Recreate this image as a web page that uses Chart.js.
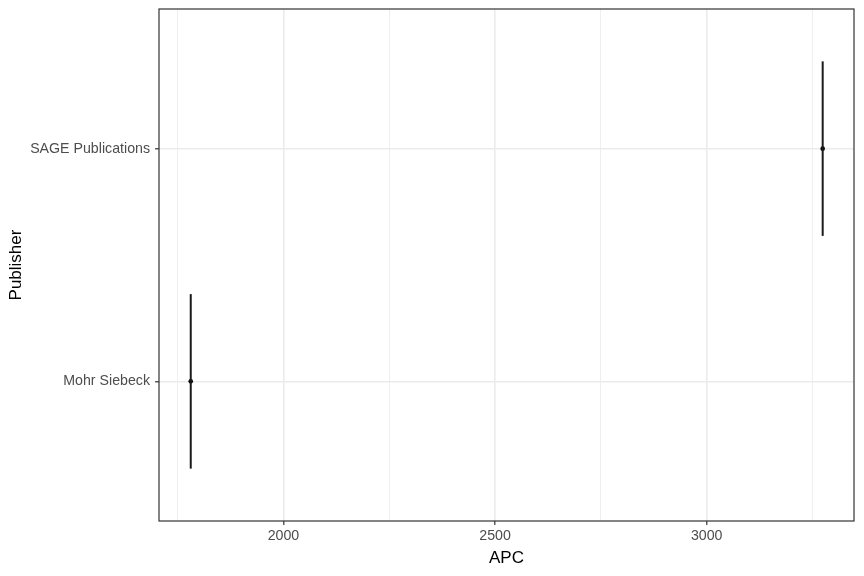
<!DOCTYPE html>
<html lang="en">
<head>
  <meta charset="UTF-8" />
  <title>APC by Publisher</title>
  <script src="https://cdn.jsdelivr.net/npm/chart.js"></script>
  <style>
    html, body { margin: 0; padding: 0; background: #fff; }
    #wrap { width: 864px; height: 576px; }
  </style>
</head>
<body>
  <div id="wrap"><canvas id="apcChart" width="864" height="576"></canvas></div>

  <script>
    // data
    const publishers = ["Mohr Siebeck", "SAGE Publications"];
    const apc = [1781, 3274];
    const xTicks = [1750, 2000, 2250, 2500, 2750, 3000, 3250];
    const xTickLabels = ["", "2000", "", "2500", "", "3000", ""];

    const BAR_HALF = 0.375; // vertical half-size of the bars, in category units
    const FONT = "'Liberation Sans', Arial, sans-serif";

    // one line dataset per publisher for the vertical bar, plus one scatter set for the points
    const barSets = publishers.map(function (p, i) {
      return {
        type: "line",
        label: p,
        data: [{ x: apc[i], y: i + 1 - BAR_HALF }, { x: apc[i], y: i + 1 + BAR_HALF }],
        borderColor: "#1a1a1a",
        borderWidth: 2,
        pointRadius: 0,
        fill: false
      };
    });

    const pointSet = {
      type: "scatter",
      label: "APC",
      data: publishers.map(function (p, i) { return { x: apc[i], y: i + 1 }; }),
      backgroundColor: "#000",
      borderColor: "#000",
      pointRadius: 2.3,
      borderWidth: 0
    };

    // panel border on all four sides, like theme_bw
    const panelBorder = {
      id: "panelBorder",
      afterDatasetsDraw(chart) {
        const a = chart.chartArea, ctx = chart.ctx;
        ctx.save();
        ctx.strokeStyle = "#333333";
        ctx.lineWidth = 1.2;
        ctx.strokeRect(a.left, a.top, a.right - a.left, a.bottom - a.top);
        ctx.restore();
      }
    };

    new Chart(document.getElementById("apcChart").getContext("2d"), {
      type: "scatter",
      data: { datasets: barSets.concat([pointSet]) },
      plugins: [panelBorder],
      options: {
        responsive: false,
        animation: false,
        layout: { padding: { top: 9, right: 10, left: 2, bottom: 0 } },
        plugins: { legend: { display: false }, tooltip: { enabled: false } },
        scales: {
          x: {
            type: "linear",
            min: 1706,
            max: 3348,
            afterBuildTicks: function (s) { s.ticks = xTicks.map(function (v) { return { value: v }; }); },
            afterFit: function (s) { s.height = 55; s.paddingLeft = 0; s.paddingRight = 0; },
            ticks: {
              autoSkip: false,
              maxRotation: 0,
              color: "#4D4D4D",
              font: { family: FONT, size: 14.2 },
              padding: 3,
              callback: function (v, i) { return xTickLabels[i]; }
            },
            grid: {
              color: "#EBEBEB",
              lineWidth: function (c) { return c.index % 2 === 1 ? 1.6 : 0.8; },
              tickLength: 4,
              tickColor: function (c) { return c.index % 2 === 1 ? "#333333" : "rgba(0,0,0,0)"; },
              tickWidth: 1.2
            },
            border: { display: false },
            title: {
              display: true,
              text: "APC",
              color: "#000",
              font: { family: FONT, size: 17 },
              padding: { top: 0, bottom: 7 }
            }
          },
          y: {
            type: "linear",
            min: 0.4,
            max: 2.6,
            afterBuildTicks: function (s) { s.ticks = publishers.map(function (p, i) { return { value: i + 1 }; }); },
            afterFit: function (s) { s.width = 157; s.paddingTop = 0; s.paddingBottom = 0; },
            ticks: {
              autoSkip: false,
              color: "#4D4D4D",
              font: { family: FONT, size: 14.2 },
              padding: 5,
              callback: function (v, i) { return publishers[i]; }
            },
            grid: {
              color: "#EBEBEB",
              lineWidth: 1.6,
              tickLength: 4,
              tickColor: "#333333",
              tickWidth: 1.2
            },
            border: { display: false },
            title: {
              display: true,
              text: "Publisher",
              color: "#000",
              font: { family: FONT, size: 17 },
              padding: { bottom: 0 }
            }
          }
        }
      }
    });
  </script>
</body>
</html>
